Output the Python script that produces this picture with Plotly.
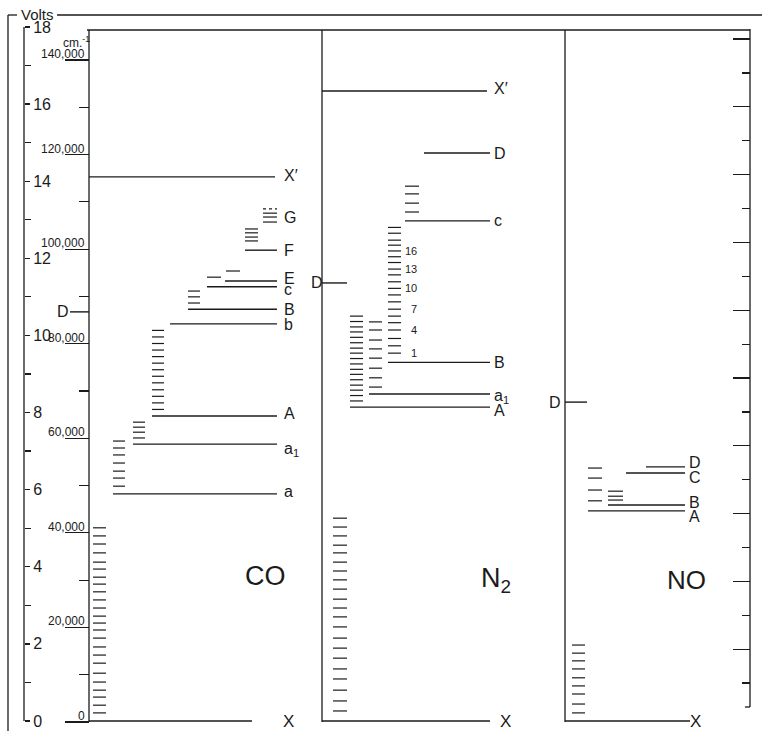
import plotly.graph_objects as go

# ---------------- DATA (energies in volts unless stated) ----------------
volt_ticks = [0, 2, 4, 6, 8, 10, 12, 14, 16, 18]
volt_minor = [1, 3, 5, 7, 9, 11, 13, 15, 17]
cm_ticks = [0, 20000, 40000, 60000, 80000, 100000, 120000, 140000]
cm_labels = ["0", "20,000", "40,000", "60,000", "80,000", "100,000", "120,000", "140,000"]
cm_minor = [10000, 30000, 50000, 70000, 90000, 110000, 130000]
right_major = [2, 4, 6, 8, 10, 12, 14, 16, 18, 20]
right_minor = [1, 3, 5, 7, 9, 11, 13, 15, 17, 19]

# CO
co_X_vib = [0.21, 0.41, 0.62, 0.80, 1.01, 1.24, 1.50, 1.71, 1.92, 2.15, 2.36, 2.54,
            2.72, 2.93, 3.14, 3.35, 3.55, 3.73, 3.94, 4.12, 4.36, 4.59, 4.80, 5.01]
co_a = 5.89
co_a_vib = [6.09, 6.30, 6.48, 6.69, 6.90, 7.08, 7.26]
co_a1 = 7.18
co_a1_vib = [7.34, 7.49, 7.62, 7.75]
co_A = 7.91
co_A_vib = [8.08, 8.25, 8.42, 8.59, 8.77, 8.94, 9.11, 9.28, 9.45, 9.62, 9.79, 9.96, 10.13]
co_b = 10.30
co_B = 10.68
co_B_vib = [10.84, 11.00, 11.15]
co_c = 11.26
co_c_vib = [11.51]
co_E = 11.41
co_E_vib = [11.67]
co_F = 12.21
co_F_vib = [12.45, 12.55, 12.66, 12.76]
co_G_vib = [12.94, 13.07, 13.17]
co_G_dot = [13.28]
co_Xp = 14.11
co_D = 10.61

# N2
n2_X_vib = [0.26, 0.52, 0.80, 1.09, 1.35, 1.63, 1.89, 2.15, 2.44, 2.70, 2.93,
            3.16, 3.42, 3.66, 3.89, 4.12, 4.36, 4.56, 4.80, 5.03, 5.26]
n2_A = 8.14
n2_A_vib = [8.30, 8.44, 8.58, 8.71, 8.85, 8.99, 9.12, 9.26, 9.40, 9.54, 9.67,
            9.81, 9.95, 10.09, 10.22, 10.36, 10.50]
n2_a1 = 8.48
n2_a1_vib = [8.66, 8.90, 9.15, 9.41, 9.65, 9.88, 10.14, 10.35]
n2_B = 9.30
n2_B_vib = [9.54, 9.73, 9.92, 10.14, 10.33, 10.50, 10.68, 10.87, 11.05, 11.22,
            11.39, 11.57, 11.72, 11.89, 12.04, 12.19, 12.34, 12.47, 12.65, 12.80]
n2_B_numbers = [1, 4, 7, 10, 13, 16]
n2_c = 12.97
n2_c_vib = [13.20, 13.43, 13.67, 13.87]
n2_Dlev = 14.73
n2_Xp = 16.34
n2_D = 11.36

# NO
no_X_vib = [0.21, 0.44, 0.70, 0.91, 1.12, 1.35, 1.56, 1.76, 1.97]
no_A = 5.45
no_A_vib = [5.71, 5.99, 6.30, 6.56]
no_B = 5.60
no_B_vib = [5.73, 5.83, 5.96]
no_C = 6.43
no_Dlev = 6.59
no_D = 8.27

# ---------------- LAYOUT / POSITIONS (drawing columns, px) ----------------
W, H = 762, 731
V0_ROW, V_PX = 721.0, 38.56          # 0 V row, px per volt
CM0_ROW, CM_PER_PX = 722.0, 140000 / 662.0
R0_ROW, R_PX = 717.0, 33.9

INK = "#1b1b1b"
FONT = "Liberation Sans"

def row(r):
    return 1 - r / H

fig = go.Figure()

def add_levels(energies, x0, x1, width=1.3, dash=None):
    xs, ys = [], []
    for e in energies:
        xs += [x0, x1, None]
        ys += [e, e, None]
    fig.add_trace(go.Scatter(x=xs, y=ys, mode="lines",
                             line=dict(color=INK, width=width, dash=dash),
                             hoverinfo="skip", showlegend=False))

VIB = 1.2
BASE = 1.4
# CO
add_levels([0], 89, 252, BASE)
add_levels(co_X_vib, 93, 106, VIB)
add_levels([co_a], 113, 277, BASE); add_levels(co_a_vib, 113, 125, VIB)
add_levels([co_a1], 133, 277, BASE); add_levels(co_a1_vib, 133, 145, VIB)
add_levels([co_A], 152, 277, BASE); add_levels(co_A_vib, 152, 164, VIB)
add_levels([co_b], 170, 277, BASE)
add_levels([co_B], 188, 277, BASE); add_levels(co_B_vib, 188, 200, VIB)
add_levels([co_c], 207, 277, BASE); add_levels(co_c_vib, 207, 221, VIB)
add_levels([co_E], 225, 277, BASE); add_levels(co_E_vib, 226, 240, VIB)
add_levels([co_F], 245, 277, BASE); add_levels(co_F_vib, 245, 258, VIB)
add_levels(co_G_vib, 263, 277, VIB); add_levels(co_G_dot, 263, 277, VIB, "dot")
add_levels([co_Xp], 89, 275, BASE)
add_levels([co_D], 70, 89, BASE)
# N2
add_levels([0], 322, 490, BASE)
add_levels(n2_X_vib, 333, 347, VIB)
add_levels([n2_A], 350, 490, BASE); add_levels(n2_A_vib, 350, 363, VIB)
add_levels([n2_a1], 369, 490, BASE); add_levels(n2_a1_vib, 369, 382, VIB)
add_levels([n2_B], 388, 490, BASE); add_levels(n2_B_vib, 388, 401, VIB)
add_levels([n2_c], 405, 490, BASE); add_levels(n2_c_vib, 405, 419, VIB)
add_levels([n2_Dlev], 424, 490, BASE)
add_levels([n2_Xp], 322, 487, BASE)
add_levels([n2_D], 322, 347, BASE)
# NO
add_levels([0], 565, 690, BASE)
add_levels(no_X_vib, 572, 585, VIB)
add_levels([no_A], 588, 685, BASE); add_levels(no_A_vib, 588, 602, VIB)
add_levels([no_B], 608, 685, BASE); add_levels(no_B_vib, 608, 623, VIB)
add_levels([no_C], 626, 685, BASE)
add_levels([no_Dlev], 646, 685, BASE)
add_levels([no_D], 565, 587, BASE)

# invisible anchors so overlaying axes are drawn
for ax in ("y2", "y3"):
    fig.add_trace(go.Scatter(x=[-100], y=[0], yaxis=ax, mode="markers",
                             marker=dict(opacity=0), hoverinfo="skip", showlegend=False))

ann = []
def label(text, x, y, size=16, yshift=0, xanchor="left", yref="y"):
    ann.append(dict(text=text, x=x, y=y, xref="x", yref=yref, xanchor=xanchor,
                    yanchor="middle", yshift=yshift, showarrow=False,
                    font=dict(family=FONT, size=size, color=INK)))

# CO labels
label("X′", 282, co_Xp, yshift=1)
label("G", 282, co_G_vib[1], yshift=0)
label("F", 282, co_F, yshift=0)
label("E", 282, co_E, yshift=3)
label("c", 282, co_c, yshift=-3)
label("B", 282, co_B, yshift=0)
label("b", 282, co_b, yshift=-1)
label("A", 282, co_A, yshift=2)
label("a<sub>1</sub>", 282, co_a1, yshift=-5)
label("a", 282, co_a, yshift=2)
label("D", 63, co_D, xanchor="center")
# N2 labels
label("X′", 492, n2_Xp, yshift=2)
label("D", 492, n2_Dlev)
label("c", 492, n2_c)
label("B", 492, n2_B)
label("a<sub>1</sub>", 492, n2_a1, yshift=-2)
label("A", 492, n2_A, yshift=-3)
label("D", 317, n2_D, xanchor="center")
num_x = [409, 409, 409, 403, 403, 403]
for n, nx in zip(n2_B_numbers, num_x):
    label(str(n), nx, n2_B_vib[n - 1], size=11)
# NO labels
label("D", 687, no_Dlev, yshift=4)
label("C", 687, no_C, yshift=-4)
label("B", 687, no_B, yshift=3)
label("A", 687, no_A, yshift=-6)
label("D", 555, no_D, xanchor="center")
# ground-state X labels
for xx in (288, 505, 695):
    label("X", xx, 0, size=17, xanchor="center", yshift=0)

# cm^-1 tick labels (sitting on top of their tick lines)
for v, t in zip(cm_ticks, cm_labels):
    ann.append(dict(text=t, x=87 / W, y=v, xref="paper", yref="y2", xanchor="right",
                    yanchor="bottom", yshift=-3, showarrow=False,
                    font=dict(family=FONT, size=12, color=INK)))

# other texts
def ptext(text, x, r, size, xanchor="center"):
    ann.append(dict(text=text, x=x / W, y=row(r), xref="paper", yref="paper",
                    xanchor=xanchor, yanchor="middle", showarrow=False,
                    font=dict(family=FONT, size=size, color=INK)))

ptext("Volts", 37, 15, 15)
ptext("cm.<sup>-1</sup>", 76, 42, 12)
ptext("CO", 265, 576, 27)
ptext("N<sub>2</sub>", 496, 580, 27)
ptext("NO", 686, 580, 26)

# frame lines
shapes = []
def seg(x0, r0, x1, r1, w=1.3):
    shapes.append(dict(type="line", xref="paper", yref="paper",
                       x0=x0 / W, x1=x1 / W, y0=row(r0), y1=row(r1),
                       line=dict(color=INK, width=w)))

seg(8, 15, 8, 731)
seg(8, 15, 17, 15)
seg(57, 15, 762, 15)
seg(24, V0_ROW - 18 * V_PX, 24, V0_ROW)
seg(87, 30, 750, 30)
seg(89, 30, 89, 722)
seg(322, 30, 322, 722)
seg(565, 30, 565, 722)
seg(750, 29, 750, 707)
seg(745, 707, 750, 707)

v_lo = -(H - V0_ROW) / V_PX
v_hi = V0_ROW / V_PX
cm_lo = -(H - CM0_ROW) * CM_PER_PX
cm_hi = CM0_ROW * CM_PER_PX
r_lo = -(H - R0_ROW) / R_PX
r_hi = R0_ROW / R_PX

fig.update_layout(
    width=W, height=H,
    margin=dict(l=0, r=0, t=0, b=0),
    paper_bgcolor="white", plot_bgcolor="white",
    showlegend=False, hovermode=False,
    xaxis=dict(range=[0, W], domain=[0, 1], visible=False, fixedrange=True),
    yaxis=dict(range=[v_lo, v_hi], domain=[0, 1], anchor="free", position=24 / W,
               side="right", showgrid=False, zeroline=False, showline=False,
               ticks="outside", ticklen=5, tickwidth=1.3, tickcolor=INK,
               tickmode="array", tickvals=volt_ticks,
               ticktext=[str(v) for v in volt_ticks],
               tickfont=dict(family=FONT, size=16, color=INK),
               minor=dict(tickmode="array", tickvals=volt_minor, ticks="outside",
                          ticklen=6, tickwidth=1.2, tickcolor=INK, showgrid=False)),
    yaxis2=dict(range=[cm_lo, cm_hi], overlaying="y", anchor="free", position=89 / W,
                side="left", showgrid=False, zeroline=False, showline=False,
                ticks="outside", ticklen=24, tickwidth=1.2, tickcolor=INK,
                tickmode="array", tickvals=cm_ticks, showticklabels=False,
                minor=dict(tickmode="array", tickvals=cm_minor, ticks="outside",
                           ticklen=10, tickwidth=1.2, tickcolor=INK, showgrid=False)),
    yaxis3=dict(range=[r_lo, r_hi], overlaying="y", anchor="free", position=750 / W,
                side="right", showgrid=False, zeroline=False, showline=False,
                ticks="inside", ticklen=17, tickwidth=1.2, tickcolor=INK,
                tickmode="array", tickvals=right_major, showticklabels=False,
                minor=dict(tickmode="array", tickvals=right_minor, ticks="inside",
                           ticklen=8, tickwidth=1.2, tickcolor=INK, showgrid=False)),
    annotations=ann,
    shapes=shapes,
)

fig.write_html("out.html",
               config={"displayModeBar": False, "staticPlot": True},
               post_script="document.body.style.margin='0px';"
                           "document.body.style.overflow='hidden';")
